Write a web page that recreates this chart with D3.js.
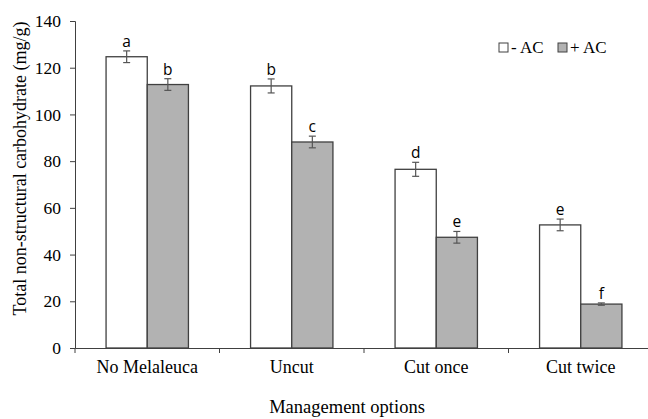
<!DOCTYPE html>
<html>
<head>
<meta charset="utf-8">
<script src="https://cdn.jsdelivr.net/npm/d3@7"></script>
<style>
  body { margin: 0; background: #fff; }
  svg text { font-family: "Liberation Serif", "Times New Roman", serif; }
</style>
</head>
<body>
<div id="chartDiv"></div>
<script>
// data
var categories = ["No Melaleuca", "Uncut", "Cut once", "Cut twice"];
var seriesNames = ["- AC", "+ AC"];
var minusAC = [124.7, 112.2, 76.5, 52.7];
var plusAC = [112.8, 88.2, 47.4, 18.8];
var minusErr = [2.5, 3, 3, 2.5];
var plusErr = [2.5, 2.5, 2.5, 0.5];
var minusLetters = ["a", "b", "d", "e"];
var plusLetters = ["b", "c", "e", "f"];
var yTicks = [0, 20, 40, 60, 80, 100, 120, 140];

var swidth = 648, sheight = 419;
var margin = {top: 21, right: -5, bottom: 71, left: 75};
var width = swidth - margin.left - margin.right,
    height = sheight - margin.top - margin.bottom;

var svg = d3.select("#chartDiv")
    .append("svg")
    .attr("width", swidth)
    .attr("height", sheight);

var g = svg.append("g")
    .attr("transform", "translate(" + margin.left + "," + margin.top + ")");

var x = d3.scaleBand()
    .range([0, width])
    .domain(categories)
    .paddingInner(0)
    .paddingOuter(0);

var inner = x.bandwidth() * 0.57;
var x1 = d3.scaleBand()
    .domain(seriesNames)
    .range([(x.bandwidth() - inner) / 2, (x.bandwidth() + inner) / 2]);

var y = d3.scaleLinear()
    .domain([0, 140])
    .range([height, 0]);

var rows = categories.map(function (c, i) {
    return [
        {cat: c, s: seriesNames[0], v: minusAC[i], e: minusErr[i], l: minusLetters[i], fill: "#ffffff"},
        {cat: c, s: seriesNames[1], v: plusAC[i], e: plusErr[i], l: plusLetters[i], fill: "#b2b2b2"}
    ];
});
var flat = [].concat.apply([], rows);

// y axis
var yAxis = g.append("g")
    .call(d3.axisLeft(y).tickValues(yTicks).tickSize(5).tickPadding(9));
yAxis.select(".domain").attr("stroke", "#404040");
yAxis.selectAll(".tick line").attr("stroke", "#404040");
yAxis.selectAll("text")
    .style("font-size", "17.5px")
    .attr("fill", "#000");

// bars
g.selectAll(".bar")
    .data(flat)
    .enter().append("rect")
    .attr("class", "bar")
    .attr("x", function (d) { return x(d.cat) + x1(d.s); })
    .attr("y", function (d) { return y(d.v); })
    .attr("width", x1.bandwidth())
    .attr("height", function (d) { return height - y(d.v); })
    .attr("fill", function (d) { return d.fill; })
    .attr("stroke", "#404040")
    .attr("stroke-width", 1.3);

// error bars
var eb = g.selectAll(".err")
    .data(flat)
    .enter().append("g")
    .attr("class", "err")
    .attr("stroke", "#555")
    .attr("stroke-width", 1.2);
eb.append("line")
    .attr("x1", function (d) { return x(d.cat) + x1(d.s) + x1.bandwidth() / 2; })
    .attr("x2", function (d) { return x(d.cat) + x1(d.s) + x1.bandwidth() / 2; })
    .attr("y1", function (d) { return y(d.v + d.e); })
    .attr("y2", function (d) { return y(d.v - d.e); });
eb.selectAll(".cap")
    .data(function (d) { return [d.v + d.e, d.v - d.e].map(function (v) { return {d: d, v: v}; }); })
    .enter().append("line")
    .attr("x1", function (o) { return x(o.d.cat) + x1(o.d.s) + x1.bandwidth() / 2 - 3.5; })
    .attr("x2", function (o) { return x(o.d.cat) + x1(o.d.s) + x1.bandwidth() / 2 + 3.5; })
    .attr("y1", function (o) { return y(o.v); })
    .attr("y2", function (o) { return y(o.v); });

// letters
g.selectAll(".letter")
    .data(flat)
    .enter().append("text")
    .attr("class", "letter")
    .attr("x", function (d) { return x(d.cat) + x1(d.s) + x1.bandwidth() / 2; })
    .attr("y", function (d) { return y(d.v + d.e) - 4; })
    .attr("text-anchor", "middle")
    .style("font-family", "'Open Sans', 'Liberation Sans', sans-serif")
    .style("font-size", "15.5px")
    .attr("fill", "#000")
    .text(function (d) { return d.l; });

// x axis
var xAxis = g.append("g")
    .attr("transform", "translate(0," + height + ")")
    .call(d3.axisBottom(x).tickSize(0).tickPadding(12));
xAxis.select(".domain").attr("stroke", "#404040");
xAxis.selectAll("text")
    .style("font-size", "18px")
    .attr("fill", "#000");
xAxis.selectAll(".bound")
    .data(categories.slice(1))
    .enter().append("line")
    .attr("class", "bound")
    .attr("x1", function (d) { return x(d); })
    .attr("x2", function (d) { return x(d); })
    .attr("y1", 0)
    .attr("y2", 5)
    .attr("stroke", "#404040");
xAxis.append("line")
    .attr("x1", 0).attr("x2", 0).attr("y1", 0).attr("y2", 5)
    .attr("stroke", "#404040");

// axis titles
svg.append("text")
    .attr("transform", "translate(26,168.5) rotate(-90)")
    .attr("text-anchor", "middle")
    .style("font-size", "18px")
    .text("Total non-structural carbohydrate (mg/g)");

svg.append("text")
    .attr("x", 347)
    .attr("y", 413)
    .attr("text-anchor", "middle")
    .style("font-size", "18.5px")
    .text("Management options");

// legend
var legend = svg.append("g").attr("transform", "translate(499,43)");
var items = legend.selectAll(".item")
    .data(seriesNames)
    .enter().append("g")
    .attr("transform", function (d, i) { return "translate(" + (i * 59) + ",0)"; });
items.append("rect")
    .attr("width", 9)
    .attr("height", 9)
    .attr("fill", function (d, i) { return i === 0 ? "#ffffff" : "#b2b2b2"; })
    .attr("stroke", "#404040");
items.append("text")
    .attr("x", 12)
    .attr("y", 10)
    .style("font-size", "17px")
    .text(function (d) { return d; });
</script>
</body>
</html>
